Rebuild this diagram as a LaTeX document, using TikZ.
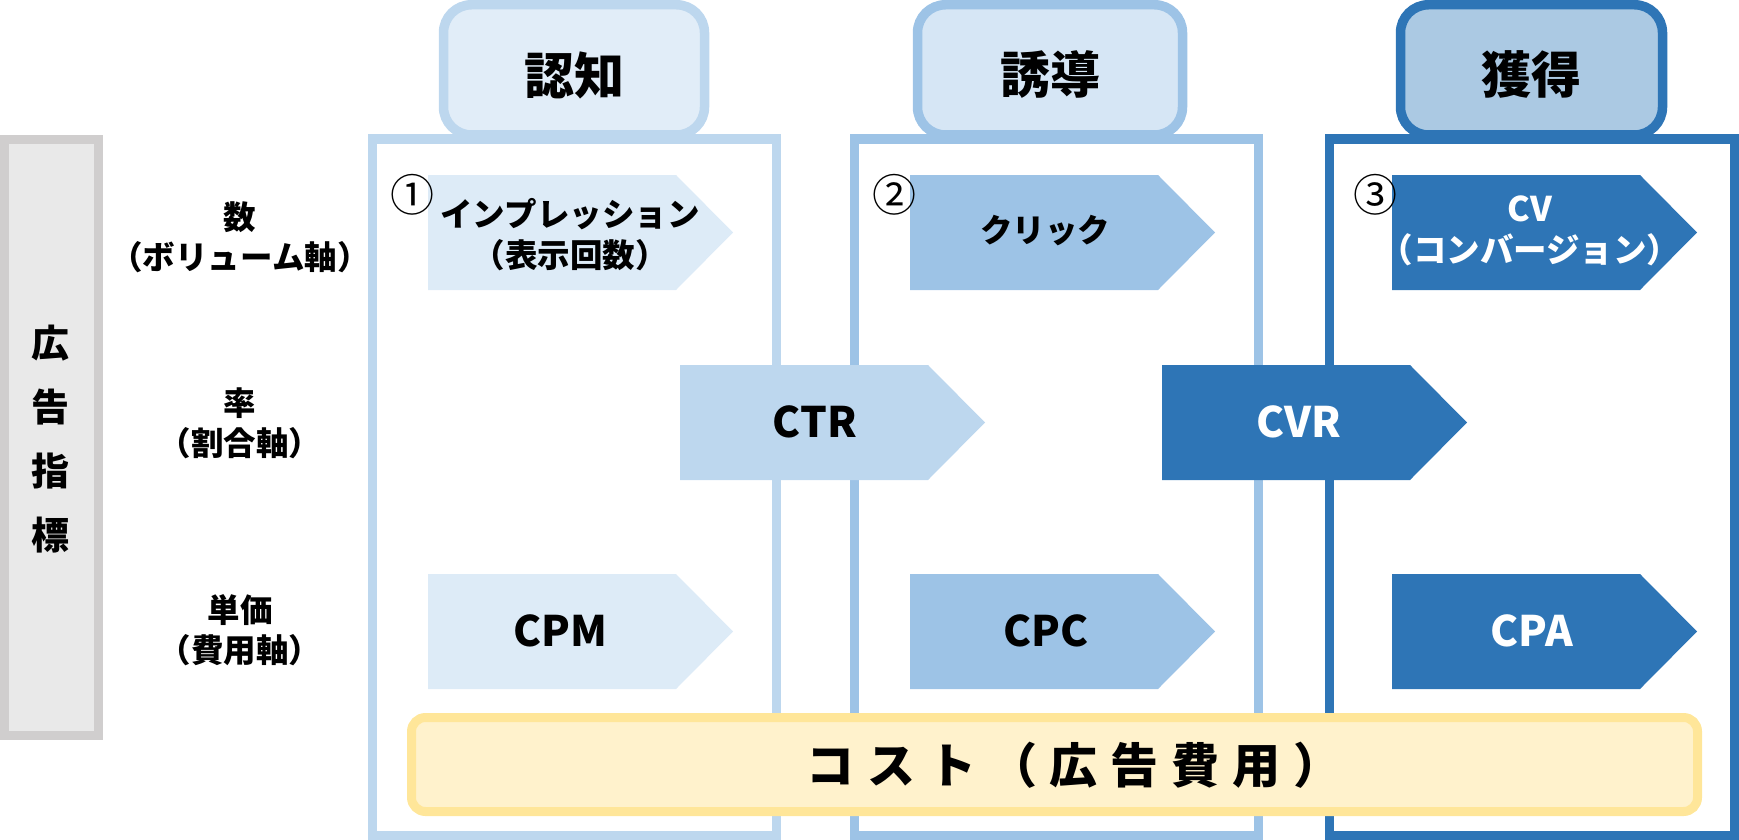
\documentclass[tikz,border=0pt]{standalone}
\usepackage{fontspec}
\setmainfont{Noto Sans CJK JP}
\definecolor{grayS}{HTML}{D0CECE}
\definecolor{grayF}{HTML}{E9E9E9}
\definecolor{bOneS}{HTML}{BDD7EE}
\definecolor{bOneH}{HTML}{E1EDF8}
\definecolor{bOneA}{HTML}{DDEBF7}
\definecolor{bTwoS}{HTML}{9DC3E6}
\definecolor{bTwoH}{HTML}{D6E6F5}
\definecolor{bThrS}{HTML}{2E75B6}
\definecolor{bThrH}{HTML}{ABC9E3}
\definecolor{yS}{HTML}{FFE699}
\definecolor{yF}{HTML}{FFF2CC}
\newcommand{\sigarrow}[3]{\fill[#3] (#1,#2) -- ++(248,0) -- ++(57,57.5) -- ++(-57,57.5) -- ++(-248,0) -- cycle;}
\begin{document}
\begin{tikzpicture}[x=1pt,y=-1pt,
  frame/.style={line width=9pt},
  hdr/.style={line width=9.5pt, rounded corners=28pt},
  rowlbl/.style={font=\fontsize{32.5}{40}\selectfont\bfseries, align=center, inner sep=0pt},
  hdrtxt/.style={font=\fontsize{50}{60}\selectfont\bfseries, inner sep=0pt},
  jtxt/.style={font=\fontsize{32.5}{41}\selectfont\bfseries, align=center, inner sep=0pt},
  ltxt/.style={font=\fontsize{42}{50}\selectfont\bfseries, inner sep=0pt},
  numtxt/.style={font=\fontsize{44}{50}\selectfont, inner sep=0pt},
]
\useasboundingbox (0,0) rectangle (1739,840);
% left gray bar
\draw[line width=9pt, draw=grayS, fill=grayF] (4.5,139.5) rectangle (98.5,735.5);
\node[font=\fontsize{38}{64}\selectfont\bfseries, align=center, inner sep=0pt] (kokoku) at (50,439) {広\\告\\指\\標};
% headers
\draw[hdr, draw=bOneS, fill=bOneH] (443.5,4.75) rectangle (704.5,135);
\draw[hdr, draw=bTwoS, fill=bTwoH] (917.5,4.75) rectangle (1182.5,135);
\draw[hdr, draw=bThrS, fill=bThrH] (1400.5,4.75) rectangle (1662.5,135);
\node[hdrtxt] (h1) at (574,75) {認知};
\node[hdrtxt] (h2) at (1050,75) {誘導};
\node[hdrtxt] (h3) at (1531,74) {獲得};
% column frames
\draw[frame, draw=bOneS] (372,139) rectangle (776.5,835.5);
\draw[frame, draw=bTwoS] (854,139) rectangle (1258,835.5);
\draw[frame, draw=bThrS] (1329.5,139) rectangle (1734.5,835.5);
% row labels
\node[rowlbl] (r1) at (240,237) {数\\（ボリューム軸）};
\node[rowlbl] (r2) at (240,423) {率\\（割合軸）};
\node[rowlbl] (r3) at (240,630) {単価\\（費用軸）};
% arrows
\sigarrow{428}{175}{bOneA}
\sigarrow{910}{175}{bTwoS}
\sigarrow{1392}{175}{bThrS}
\sigarrow{680}{365}{bOneS}
\sigarrow{1162}{365}{bThrS}
\sigarrow{428}{574}{bOneA}
\sigarrow{910}{574}{bTwoS}
\sigarrow{1392}{574}{bThrS}
% arrow texts
\node[jtxt] (a1) at (570,235) {インプレッション\\（表示回数）};
\node[jtxt] (a2) at (1045,231) {クリック};
\node[jtxt, text=white] (a3) at (1530,231) {\fontsize{34}{41}\selectfont CV\\\fontsize{33.5}{41}\selectfont（コンバージョン）};
\node[ltxt] (ctr) at (815,422) {CTR};
\node[ltxt, text=white] (cvr) at (1299,422) {CVR};
\node[ltxt] (cpm) at (560,631) {CPM};
\node[ltxt] (cpc) at (1046,631) {CPC};
\node[ltxt, text=white] (cpa) at (1532,631) {CPA};
% circled numbers
\node[numtxt] (n1) at (412,195) {①};
\node[numtxt] (n2) at (894,195) {②};
\node[numtxt] (n3) at (1375,195) {③};
% cost bar
\draw[line width=9pt, draw=yS, fill=yF, rounded corners=14pt] (411.5,717.5) rectangle (1697.5,811.5);
\node[font=\fontsize{48}{56}\selectfont\bfseries\addfontfeatures{LetterSpace=27}, inner sep=0pt] (cost) at (1074,765) {コスト（広告費用）};
\end{tikzpicture}
\end{document}
